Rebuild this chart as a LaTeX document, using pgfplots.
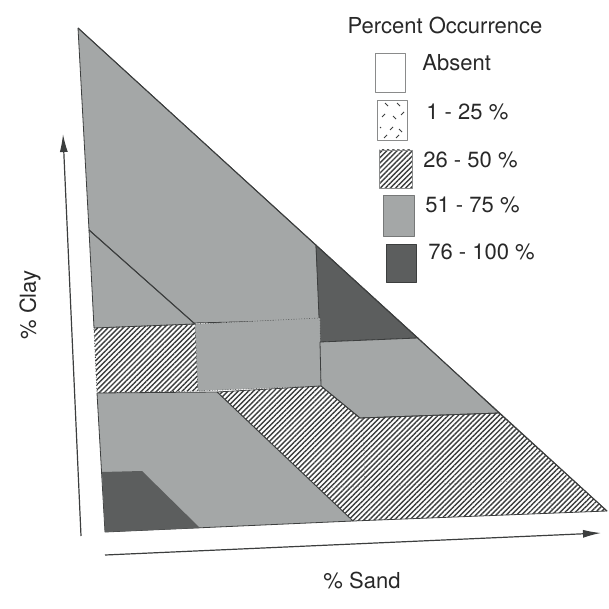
\documentclass[border=0pt]{standalone}
\usepackage{pgfplots}
\pgfplotsset{compat=1.18}
\usetikzlibrary{patterns,patterns.meta,arrows.meta}
\usepackage{fontspec}
\setmainfont{TeX Gyre Heros}
\definecolor{lg}{RGB}{164,167,167}
\definecolor{dg}{RGB}{92,94,94}
\definecolor{ln}{RGB}{60,62,62}
\definecolor{tx}{RGB}{40,40,40}
\begin{document}
\begin{tikzpicture}
\begin{axis}[x=0.5pt,y=0.5pt,xmin=0,xmax=609,ymin=0,ymax=609,y dir=reverse,
  hide axis,clip=false,
  every axis plot/.append style={line join=round, mark=none},
  hatch/.style={pattern={Lines[angle=45,distance=1.8pt,line width=0.7pt]},pattern color=ln}]
\addplot[draw=none] coordinates {(0,0)(609,609)};
% upper gray
\addplot[fill=lg,draw=ln,line width=0.4pt] coordinates {(78,28)(316,245)(320,320)(193,323)(89,230)(78,28)};
% upper dark
\addplot[fill=dg,draw=ln,line width=0.4pt] coordinates {(316,245)(418,338)(320,342)(316,245)};
% left gray
\addplot[fill=lg,draw=ln,line width=0.4pt] coordinates {(89,230)(195,324)(94,328)(89,230)};
% left hatched
\addplot[hatch,draw=none] coordinates {(94,328)(196,324)(198,391)(97,393)(94,328)};
\addplot[draw=ln,line width=0.4pt,densely dotted] coordinates {(94,328)(196,324)(198,391)(97,393)(94,328)};
% middle gray block
\addplot[fill=lg,draw=none] coordinates {(195,324)(320,318)(321,386)(198,391)(195,324)};
\addplot[draw=ln,line width=0.3pt,densely dotted] coordinates {(195,324)(320,318)(321,386)(198,391)(195,324)};
% right gray
\addplot[fill=lg,draw=ln,line width=0.4pt] coordinates {(320,342)(418,338)(499,413)(360,418)(321,386)(320,342)};
% big hatched
\addplot[hatch,draw=ln,line width=0.4pt] coordinates {(217,392)(321,386)(360,418)(499,413)(607,511)(353,521)(217,392)};
% lower gray
\addplot[fill=lg,draw=ln,line width=0.4pt] coordinates {(97,393)(217,392)(353,521)(105,532)(97,393)};
% lower dark
\addplot[fill=dg,draw=none] coordinates {(102,472)(142,471)(200,528)(105,532)(102,472)};
% diagonal line and outline
\addplot[draw=ln,line width=0.5pt] coordinates {(89,230)(195,324)};
\addplot[draw=ln,line width=0.5pt] coordinates {(78,28)(607,511)};
% dotted lines inside hatched area
\addplot[draw=ln!70,line width=0.3pt,densely dotted,unbounded coords=jump] coordinates {(363,419)(365,484)(nan,nan)(322,488)(548,480)(552,512)};
% axis arrows
\addplot[draw=ln,line width=0.6pt,-{Latex[length=9pt,width=4pt]}] coordinates {(81,536)(63,134)};
\addplot[draw=ln,line width=0.6pt,-{Latex[length=9pt,width=4pt]}] coordinates {(105,555)(601,533)};
% legend boxes
\addplot[fill=white,draw=ln!60,line width=0.4pt] coordinates {(375,53)(405,53)(405,92)(375,92)(375,53)};
\addplot[fill=white,draw=ln!60,line width=0.4pt] coordinates {(377,100)(407,100)(407,140)(377,140)(377,100)};
\addplot[draw=ln,line width=0.5pt,unbounded coords=jump] coordinates {
 (385,103)(388,106)(nan,nan)(397,103)(400,106)(nan,nan)(382,117)(385,114)(nan,nan)
 (393,116)(396,119)(nan,nan)(401,115)(404,112)(nan,nan)(380,127)(381,128)(nan,nan)
 (390,130)(393,127)(nan,nan)(399,129)(402,132)(nan,nan)(384,138)(387,135)(nan,nan)(396,138)(399,135)};
\addplot[hatch,draw=ln!60,line width=0.4pt] coordinates {(379,150)(412,150)(412,188)(379,188)(379,150)};
\addplot[fill=lg,draw=ln!70,line width=0.4pt] coordinates {(383,195)(414,195)(414,236)(383,236)(383,195)};
\addplot[fill=dg,draw=ln,line width=0.4pt] coordinates {(386,244)(416,244)(416,282)(386,282)(386,244)};
% texts
\node[text=tx,font=\fontsize{11}{13}\selectfont] at (axis cs:445,25) {Percent Occurrence};
\node[text=tx,anchor=west,inner sep=0pt,font=\fontsize{11}{13}\selectfont] at (axis cs:422,63) {Absent};
\node[text=tx,anchor=west,inner sep=0pt,font=\fontsize{11}{13}\selectfont] at (axis cs:426,112) {1 - 25 \%};
\node[text=tx,anchor=west,inner sep=0pt,font=\fontsize{11}{13}\selectfont] at (axis cs:423,160) {26 - 50 \%};
\node[text=tx,anchor=west,inner sep=0pt,font=\fontsize{11}{13}\selectfont] at (axis cs:425,205) {51 - 75 \%};
\node[text=tx,anchor=west,inner sep=0pt,font=\fontsize{11}{13}\selectfont] at (axis cs:428,252) {76 - 100 \%};
\node[text=tx,rotate=90,font=\fontsize{11}{13}\selectfont] at (axis cs:30,305) {\% Clay};
\node[text=tx,font=\fontsize{11}{13}\selectfont] at (axis cs:362,580) {\% Sand};
\end{axis}
\end{tikzpicture}
\end{document}
